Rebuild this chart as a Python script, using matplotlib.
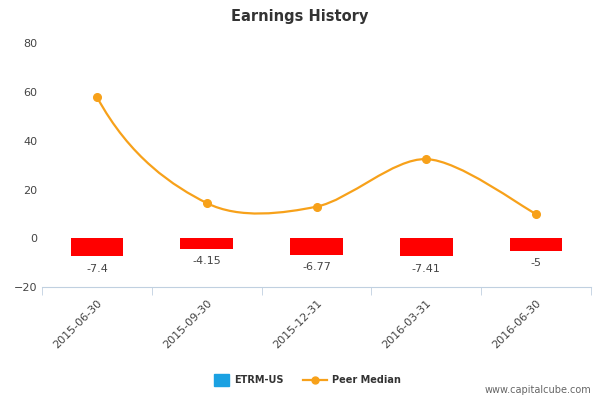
import matplotlib
matplotlib.use("Agg")
import matplotlib.pyplot as plt
from matplotlib.path import Path
from matplotlib.patches import PathPatch
import numpy as np

# chart data
quarters = ["2015-06-30", "2015-09-30", "2015-12-31", "2016-03-31", "2016-06-30"]
etrm = [-7.4, -4.15, -6.77, -7.41, -5]
peer_median = [58, 14.5, 13, 32.5, 10]

fig = plt.figure(figsize=(6, 4), dpi=100)
ax = fig.add_axes([0.07, 0.282, 0.915, 0.61])

x = np.arange(len(quarters))
ax.bar(x, etrm, width=0.48, color="#ff0000", zorder=2)
for xi, v in zip(x, etrm):
    ax.text(xi, v - 3, f"{v:g}", ha="center", va="top", fontsize=8, color="#444444")

# smooth peer-median line (bezier between the points)
verts = [(x[0], peer_median[0])]
codes = [Path.MOVETO]
t = 0.3
for i in range(len(x) - 1):
    p0 = (x[max(i - 1, 0)], peer_median[max(i - 1, 0)])
    p1 = (x[i], peer_median[i])
    p2 = (x[i + 1], peer_median[i + 1])
    p3 = (x[min(i + 2, len(x) - 1)], peer_median[min(i + 2, len(x) - 1)])
    c1 = (p1[0] + (p2[0] - p0[0]) * t / 2 * 1.0, p1[1] + (p2[1] - p0[1]) * t / 2)
    c2 = (p2[0] - (p3[0] - p1[0]) * t / 2 * 1.0, p2[1] - (p3[1] - p1[1]) * t / 2)
    if i == 0:
        c1 = (p1[0] + 0.3, p1[1] - 25)
    verts += [c1, c2, p2]
    codes += [Path.CURVE4] * 3
ax.add_patch(PathPatch(Path(verts, codes), fill=False, edgecolor="#f7a11a", lw=1.6, zorder=3))
ax.plot(x, peer_median, "o", color="#f7a11a", ms=5.5, zorder=4)

ax.set_xlim(-0.5, len(x) - 0.5)
ax.set_ylim(-20, 80)
ax.set_yticks(range(-20, 81, 20))
ax.set_xticks(x)
ax.set_xticklabels(quarters, rotation=45, ha="right", rotation_mode="anchor", fontsize=8, color="#444444")
ax.tick_params(axis="y", length=0, labelsize=8, labelcolor="#444444")
ax.tick_params(axis="x", length=0, pad=8)
ax.set_xticks(np.arange(-0.5, len(x)), minor=True)
ax.tick_params(axis="x", which="minor", length=6, color="#c0d0e0")
for s in ["top", "right", "left"]:
    ax.spines[s].set_visible(False)
ax.spines["bottom"].set_color("#c0d0e0")

fig.text(0.5, 0.96, "Earnings History", ha="center", va="center", fontsize=10.5, color="#333333", weight="bold")

# legend
fig.patches.append(plt.Rectangle((0.357, 0.035), 0.025, 0.03, transform=fig.transFigure, color="#1ba1e2"))
fig.text(0.39, 0.05, "ETRM-US", fontsize=7, weight="bold", color="#333333", va="center")
fig.lines.append(plt.Line2D([0.505, 0.545], [0.05, 0.05], transform=fig.transFigure, color="#f7a11a", lw=1.6))
fig.lines.append(plt.Line2D([0.525], [0.05], transform=fig.transFigure, color="#f7a11a", marker="o", ms=5))
fig.text(0.553, 0.05, "Peer Median", fontsize=7, weight="bold", color="#333333", va="center")
fig.text(0.985, 0.018, "www.capitalcube.com", fontsize=7, color="#666666", ha="right")

fig.savefig("out.png", dpi=100)
